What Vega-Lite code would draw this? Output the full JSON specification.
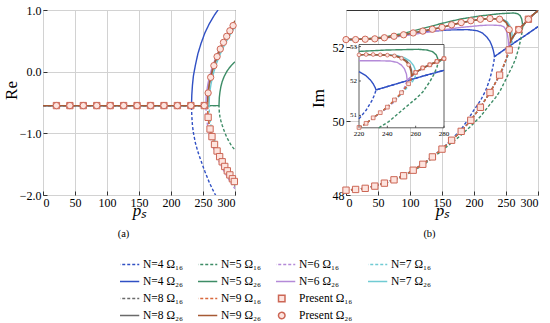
{
"$schema": "https://vega.github.io/schema/vega-lite/v6.json",
"background": "white",
"padding": {"left": 1, "top": 3, "right": 2, "bottom": 2},
"bounds": "flush",
"spacing": 111,
"datasets": {
"la": [
{"s":"N=4 Ω₁₆","p":0,"v":-0.55},{"s":"N=4 Ω₁₆","p":232,"v":-0.55},{"s":"N=4 Ω₁₆","p":232.5,"v":-0.72},{"s":"N=4 Ω₁₆","p":233.5,"v":-0.87},{"s":"N=4 Ω₁₆","p":235,"v":-0.99},{"s":"N=4 Ω₁₆","p":238,"v":-1.15},{"s":"N=4 Ω₁₆","p":242,"v":-1.3},{"s":"N=4 Ω₁₆","p":247,"v":-1.45},{"s":"N=4 Ω₁₆","p":253,"v":-1.62},{"s":"N=4 Ω₁₆","p":260,"v":-1.8},{"s":"N=4 Ω₁₆","p":266,"v":-1.93},{"s":"N=4 Ω₁₆","p":272,"v":-2.05},
{"s":"N=4 Ω₂₆","p":0,"v":-0.55},{"s":"N=4 Ω₂₆","p":232,"v":-0.55},{"s":"N=4 Ω₂₆","p":232.5,"v":-0.38},{"s":"N=4 Ω₂₆","p":233.5,"v":-0.22},{"s":"N=4 Ω₂₆","p":235,"v":-0.07},{"s":"N=4 Ω₂₆","p":238,"v":0.1},{"s":"N=4 Ω₂₆","p":242,"v":0.29},{"s":"N=4 Ω₂₆","p":247,"v":0.46},{"s":"N=4 Ω₂₆","p":253,"v":0.63},{"s":"N=4 Ω₂₆","p":260,"v":0.78},{"s":"N=4 Ω₂₆","p":268,"v":0.92},{"s":"N=4 Ω₂₆","p":276,"v":1.04},
{"s":"N=5 Ω₁₆","p":0,"v":-0.55},{"s":"N=5 Ω₁₆","p":275,"v":-0.55},{"s":"N=5 Ω₁₆","p":275.5,"v":-0.66},{"s":"N=5 Ω₁₆","p":276.5,"v":-0.73},{"s":"N=5 Ω₁₆","p":278,"v":-0.8},{"s":"N=5 Ω₁₆","p":280,"v":-0.87},{"s":"N=5 Ω₁₆","p":283,"v":-0.96},{"s":"N=5 Ω₁₆","p":287,"v":-1.06},{"s":"N=5 Ω₁₆","p":291,"v":-1.14},{"s":"N=5 Ω₁₆","p":295,"v":-1.21},{"s":"N=5 Ω₁₆","p":300,"v":-1.27},
{"s":"N=5 Ω₂₆","p":0,"v":-0.55},{"s":"N=5 Ω₂₆","p":275,"v":-0.55},{"s":"N=5 Ω₂₆","p":275.5,"v":-0.42},{"s":"N=5 Ω₂₆","p":276.5,"v":-0.33},{"s":"N=5 Ω₂₆","p":278,"v":-0.24},{"s":"N=5 Ω₂₆","p":280,"v":-0.16},{"s":"N=5 Ω₂₆","p":283,"v":-0.08},{"s":"N=5 Ω₂₆","p":287,"v":0.0},{"s":"N=5 Ω₂₆","p":291,"v":0.06},{"s":"N=5 Ω₂₆","p":295,"v":0.11},{"s":"N=5 Ω₂₆","p":300,"v":0.16},
{"s":"N=6 Ω₁₆","p":0,"v":-0.55},{"s":"N=6 Ω₁₆","p":254.5,"v":-0.55},{"s":"N=6 Ω₁₆","p":255,"v":-0.691},{"s":"N=6 Ω₁₆","p":256,"v":-0.795},{"s":"N=6 Ω₁₆","p":257.5,"v":-0.896},{"s":"N=6 Ω₁₆","p":259.5,"v":-0.997},{"s":"N=6 Ω₁₆","p":262.5,"v":-1.116},{"s":"N=6 Ω₁₆","p":266.5,"v":-1.243},{"s":"N=6 Ω₁₆","p":271.5,"v":-1.375},{"s":"N=6 Ω₁₆","p":277.5,"v":-1.509},{"s":"N=6 Ω₁₆","p":284.5,"v":-1.645},{"s":"N=6 Ω₁₆","p":292,"v":-1.775},{"s":"N=6 Ω₁₆","p":300,"v":-1.899},
{"s":"N=6 Ω₂₆","p":0,"v":-0.55},{"s":"N=6 Ω₂₆","p":254.5,"v":-0.55},{"s":"N=6 Ω₂₆","p":255,"v":-0.411},{"s":"N=6 Ω₂₆","p":256,"v":-0.309},{"s":"N=6 Ω₂₆","p":257.5,"v":-0.209},{"s":"N=6 Ω₂₆","p":259.5,"v":-0.11},{"s":"N=6 Ω₂₆","p":262.5,"v":0.007},{"s":"N=6 Ω₂₆","p":266.5,"v":0.132},{"s":"N=6 Ω₂₆","p":271.5,"v":0.262},{"s":"N=6 Ω₂₆","p":277.5,"v":0.395},{"s":"N=6 Ω₂₆","p":284.5,"v":0.529},{"s":"N=6 Ω₂₆","p":292,"v":0.656},{"s":"N=6 Ω₂₆","p":300,"v":0.779},
{"s":"N=7 Ω₁₆","p":0,"v":-0.55},{"s":"N=7 Ω₁₆","p":259.5,"v":-0.55},{"s":"N=7 Ω₁₆","p":260,"v":-0.684},{"s":"N=7 Ω₁₆","p":261,"v":-0.783},{"s":"N=7 Ω₁₆","p":262.5,"v":-0.879},{"s":"N=7 Ω₁₆","p":264.5,"v":-0.975},{"s":"N=7 Ω₁₆","p":267.5,"v":-1.087},{"s":"N=7 Ω₁₆","p":271.5,"v":-1.208},{"s":"N=7 Ω₁₆","p":276.5,"v":-1.333},{"s":"N=7 Ω₁₆","p":282.5,"v":-1.461},{"s":"N=7 Ω₁₆","p":289.5,"v":-1.591},{"s":"N=7 Ω₁₆","p":295,"v":-1.682},{"s":"N=7 Ω₁₆","p":300,"v":-1.759},
{"s":"N=7 Ω₂₆","p":0,"v":-0.55},{"s":"N=7 Ω₂₆","p":259.5,"v":-0.55},{"s":"N=7 Ω₂₆","p":260,"v":-0.409},{"s":"N=7 Ω₂₆","p":261,"v":-0.305},{"s":"N=7 Ω₂₆","p":262.5,"v":-0.204},{"s":"N=7 Ω₂₆","p":264.5,"v":-0.103},{"s":"N=7 Ω₂₆","p":267.5,"v":0.016},{"s":"N=7 Ω₂₆","p":271.5,"v":0.143},{"s":"N=7 Ω₂₆","p":276.5,"v":0.275},{"s":"N=7 Ω₂₆","p":282.5,"v":0.409},{"s":"N=7 Ω₂₆","p":289.5,"v":0.545},{"s":"N=7 Ω₂₆","p":295,"v":0.642},{"s":"N=7 Ω₂₆","p":300,"v":0.723},
{"s":"N=8 Ω₁₆","p":0,"v":-0.55},{"s":"N=8 Ω₁₆","p":257,"v":-0.55},{"s":"N=8 Ω₁₆","p":257.5,"v":-0.691},{"s":"N=8 Ω₁₆","p":258.5,"v":-0.795},{"s":"N=8 Ω₁₆","p":260,"v":-0.896},{"s":"N=8 Ω₁₆","p":262,"v":-0.997},{"s":"N=8 Ω₁₆","p":265,"v":-1.116},{"s":"N=8 Ω₁₆","p":269,"v":-1.243},{"s":"N=8 Ω₁₆","p":274,"v":-1.375},{"s":"N=8 Ω₁₆","p":280,"v":-1.509},{"s":"N=8 Ω₁₆","p":287,"v":-1.645},{"s":"N=8 Ω₁₆","p":293,"v":-1.75},{"s":"N=8 Ω₁₆","p":300,"v":-1.861},
{"s":"N=8 Ω₂₆","p":0,"v":-0.55},{"s":"N=8 Ω₂₆","p":257,"v":-0.55},{"s":"N=8 Ω₂₆","p":257.5,"v":-0.409},{"s":"N=8 Ω₂₆","p":258.5,"v":-0.305},{"s":"N=8 Ω₂₆","p":260,"v":-0.204},{"s":"N=8 Ω₂₆","p":262,"v":-0.103},{"s":"N=8 Ω₂₆","p":265,"v":0.016},{"s":"N=8 Ω₂₆","p":269,"v":0.143},{"s":"N=8 Ω₂₆","p":274,"v":0.275},{"s":"N=8 Ω₂₆","p":280,"v":0.409},{"s":"N=8 Ω₂₆","p":287,"v":0.545},{"s":"N=8 Ω₂₆","p":293,"v":0.65},{"s":"N=8 Ω₂₆","p":300,"v":0.761},
{"s":"N=9 Ω₁₆","p":0,"v":-0.55},{"s":"N=9 Ω₁₆","p":257,"v":-0.55},{"s":"N=9 Ω₁₆","p":257.5,"v":-0.681},{"s":"N=9 Ω₁₆","p":258.5,"v":-0.777},{"s":"N=9 Ω₁₆","p":260,"v":-0.87},{"s":"N=9 Ω₁₆","p":262,"v":-0.964},{"s":"N=9 Ω₁₆","p":265,"v":-1.073},{"s":"N=9 Ω₁₆","p":269,"v":-1.191},{"s":"N=9 Ω₁₆","p":274,"v":-1.313},{"s":"N=9 Ω₁₆","p":280,"v":-1.437},{"s":"N=9 Ω₁₆","p":287,"v":-1.563},{"s":"N=9 Ω₁₆","p":293,"v":-1.66},{"s":"N=9 Ω₁₆","p":300,"v":-1.763},
{"s":"N=9 Ω₂₆","p":0,"v":-0.55},{"s":"N=9 Ω₂₆","p":257,"v":-0.55},{"s":"N=9 Ω₂₆","p":257.5,"v":-0.402},{"s":"N=9 Ω₂₆","p":258.5,"v":-0.293},{"s":"N=9 Ω₂₆","p":260,"v":-0.186},{"s":"N=9 Ω₂₆","p":262,"v":-0.08},{"s":"N=9 Ω₂₆","p":265,"v":0.044},{"s":"N=9 Ω₂₆","p":269,"v":0.177},{"s":"N=9 Ω₂₆","p":274,"v":0.316},{"s":"N=9 Ω₂₆","p":280,"v":0.457},{"s":"N=9 Ω₂₆","p":287,"v":0.6},{"s":"N=9 Ω₂₆","p":293,"v":0.71},{"s":"N=9 Ω₂₆","p":300,"v":0.827}
],
"ma": [
{"s":"Present Ω₁₆","p":21,"v":-0.55},{"s":"Present Ω₁₆","p":42,"v":-0.55},{"s":"Present Ω₁₆","p":63,"v":-0.55},{"s":"Present Ω₁₆","p":84,"v":-0.55},{"s":"Present Ω₁₆","p":105,"v":-0.55},{"s":"Present Ω₁₆","p":126,"v":-0.55},{"s":"Present Ω₁₆","p":147,"v":-0.55},{"s":"Present Ω₁₆","p":168,"v":-0.55},{"s":"Present Ω₁₆","p":189,"v":-0.55},{"s":"Present Ω₁₆","p":210,"v":-0.55},{"s":"Present Ω₁₆","p":231,"v":-0.55},{"s":"Present Ω₁₆","p":252,"v":-0.55},
{"s":"Present Ω₁₆","p":258,"v":-0.74},{"s":"Present Ω₁₆","p":261,"v":-0.93},{"s":"Present Ω₁₆","p":264,"v":-1.053},{"s":"Present Ω₁₆","p":268,"v":-1.18},{"s":"Present Ω₁₆","p":272,"v":-1.286},{"s":"Present Ω₁₆","p":276,"v":-1.378},{"s":"Present Ω₁₆","p":280,"v":-1.461},{"s":"Present Ω₁₆","p":284,"v":-1.537},{"s":"Present Ω₁₆","p":288,"v":-1.608},{"s":"Present Ω₁₆","p":292,"v":-1.674},{"s":"Present Ω₁₆","p":296,"v":-1.737},{"s":"Present Ω₁₆","p":299,"v":-1.781},
{"s":"Present Ω₂₆","p":21,"v":-0.55},{"s":"Present Ω₂₆","p":42,"v":-0.55},{"s":"Present Ω₂₆","p":63,"v":-0.55},{"s":"Present Ω₂₆","p":84,"v":-0.55},{"s":"Present Ω₂₆","p":105,"v":-0.55},{"s":"Present Ω₂₆","p":126,"v":-0.55},{"s":"Present Ω₂₆","p":147,"v":-0.55},{"s":"Present Ω₂₆","p":168,"v":-0.55},{"s":"Present Ω₂₆","p":189,"v":-0.55},{"s":"Present Ω₂₆","p":210,"v":-0.55},{"s":"Present Ω₂₆","p":231,"v":-0.55},{"s":"Present Ω₂₆","p":252,"v":-0.55},
{"s":"Present Ω₂₆","p":258,"v":-0.345},{"s":"Present Ω₂₆","p":262,"v":-0.092},{"s":"Present Ω₂₆","p":267,"v":0.098},{"s":"Present Ω₂₆","p":272,"v":0.244},{"s":"Present Ω₂₆","p":277,"v":0.367},{"s":"Present Ω₂₆","p":282,"v":0.475},{"s":"Present Ω₂₆","p":287,"v":0.573},{"s":"Present Ω₂₆","p":292,"v":0.663},{"s":"Present Ω₂₆","p":297,"v":0.747}
],
"lb": [
{"s":"N=4 Ω₁₆","p":0,"v":48.13},{"s":"N=4 Ω₁₆","p":30,"v":48.18},{"s":"N=4 Ω₁₆","p":60,"v":48.32},{"s":"N=4 Ω₁₆","p":90,"v":48.52},{"s":"N=4 Ω₁₆","p":120,"v":48.83},{"s":"N=4 Ω₁₆","p":150,"v":49.24},{"s":"N=4 Ω₁₆","p":165,"v":49.5},{"s":"N=4 Ω₁₆","p":180,"v":49.78},{"s":"N=4 Ω₁₆","p":190,"v":50.02},{"s":"N=4 Ω₁₆","p":200,"v":50.3},{"s":"N=4 Ω₁₆","p":210,"v":50.55},{"s":"N=4 Ω₁₆","p":217,"v":50.78},{"s":"N=4 Ω₁₆","p":220,"v":50.9},{"s":"N=4 Ω₁₆","p":225,"v":51.15},{"s":"N=4 Ω₁₆","p":229,"v":51.42},{"s":"N=4 Ω₁₆","p":231,"v":51.6},{"s":"N=4 Ω₁₆","p":232,"v":51.74},{"s":"N=4 Ω₁₆","p":250,"v":51.96},{"s":"N=4 Ω₁₆","p":265,"v":52.14},{"s":"N=4 Ω₁₆","p":280,"v":52.31},{"s":"N=4 Ω₁₆","p":300,"v":52.55},
{"s":"N=4 Ω₂₆","p":0,"v":52.2},{"s":"N=4 Ω₂₆","p":30,"v":52.21},{"s":"N=4 Ω₂₆","p":60,"v":52.25},{"s":"N=4 Ω₂₆","p":100,"v":52.36},{"s":"N=4 Ω₂₆","p":130,"v":52.42},{"s":"N=4 Ω₂₆","p":160,"v":52.46},{"s":"N=4 Ω₂₆","p":190,"v":52.47},{"s":"N=4 Ω₂₆","p":205,"v":52.44},{"s":"N=4 Ω₂₆","p":213,"v":52.38},{"s":"N=4 Ω₂₆","p":220,"v":52.27},{"s":"N=4 Ω₂₆","p":225,"v":52.15},{"s":"N=4 Ω₂₆","p":228,"v":52.03},{"s":"N=4 Ω₂₆","p":230,"v":51.92},{"s":"N=4 Ω₂₆","p":231.5,"v":51.8},{"s":"N=4 Ω₂₆","p":232,"v":51.74},{"s":"N=4 Ω₂₆","p":250,"v":51.96},{"s":"N=4 Ω₂₆","p":265,"v":52.14},{"s":"N=4 Ω₂₆","p":280,"v":52.31},{"s":"N=4 Ω₂₆","p":300,"v":52.55},
{"s":"N=5 Ω₁₆","p":0,"v":48.13},{"s":"N=5 Ω₁₆","p":30,"v":48.18},{"s":"N=5 Ω₁₆","p":60,"v":48.31},{"s":"N=5 Ω₁₆","p":90,"v":48.5},{"s":"N=5 Ω₁₆","p":120,"v":48.8},{"s":"N=5 Ω₁₆","p":150,"v":49.2},{"s":"N=5 Ω₁₆","p":180,"v":49.62},{"s":"N=5 Ω₁₆","p":195,"v":49.86},{"s":"N=5 Ω₁₆","p":210,"v":50.12},{"s":"N=5 Ω₁₆","p":225,"v":50.45},{"s":"N=5 Ω₁₆","p":234,"v":50.64},{"s":"N=5 Ω₁₆","p":241,"v":50.82},{"s":"N=5 Ω₁₆","p":253,"v":51.24},{"s":"N=5 Ω₁₆","p":260,"v":51.48},{"s":"N=5 Ω₁₆","p":265,"v":51.68},{"s":"N=5 Ω₁₆","p":270,"v":51.98},{"s":"N=5 Ω₁₆","p":273,"v":52.2},{"s":"N=5 Ω₁₆","p":275,"v":52.4},{"s":"N=5 Ω₁₆","p":276,"v":52.55},{"s":"N=5 Ω₁₆","p":280,"v":52.65},{"s":"N=5 Ω₁₆","p":285,"v":52.75},{"s":"N=5 Ω₁₆","p":292,"v":52.87},{"s":"N=5 Ω₁₆","p":300,"v":52.98},
{"s":"N=5 Ω₂₆","p":0,"v":52.2},{"s":"N=5 Ω₂₆","p":30,"v":52.22},{"s":"N=5 Ω₂₆","p":60,"v":52.27},{"s":"N=5 Ω₂₆","p":90,"v":52.37},{"s":"N=5 Ω₂₆","p":120,"v":52.5},{"s":"N=5 Ω₂₆","p":150,"v":52.64},{"s":"N=5 Ω₂₆","p":180,"v":52.76},{"s":"N=5 Ω₂₆","p":210,"v":52.84},{"s":"N=5 Ω₂₆","p":220,"v":52.86},{"s":"N=5 Ω₂₆","p":240,"v":52.9},{"s":"N=5 Ω₂₆","p":262,"v":52.92},{"s":"N=5 Ω₂₆","p":268,"v":52.9},{"s":"N=5 Ω₂₆","p":272,"v":52.85},{"s":"N=5 Ω₂₆","p":274.5,"v":52.76},{"s":"N=5 Ω₂₆","p":275.5,"v":52.66},{"s":"N=5 Ω₂₆","p":276,"v":52.55},{"s":"N=5 Ω₂₆","p":280,"v":52.65},{"s":"N=5 Ω₂₆","p":285,"v":52.75},{"s":"N=5 Ω₂₆","p":292,"v":52.87},{"s":"N=5 Ω₂₆","p":300,"v":52.98},
{"s":"N=6 Ω₁₆","p":0,"v":48.13},{"s":"N=6 Ω₁₆","p":30,"v":48.18},{"s":"N=6 Ω₁₆","p":60,"v":48.32},{"s":"N=6 Ω₁₆","p":90,"v":48.52},{"s":"N=6 Ω₁₆","p":120,"v":48.83},{"s":"N=6 Ω₁₆","p":150,"v":49.24},{"s":"N=6 Ω₁₆","p":180,"v":49.72},{"s":"N=6 Ω₁₆","p":195,"v":50.02},{"s":"N=6 Ω₁₆","p":210,"v":50.37},{"s":"N=6 Ω₁₆","p":220,"v":50.64},{"s":"N=6 Ω₁₆","p":225,"v":50.77},{"s":"N=6 Ω₁₆","p":240,"v":51.22},{"s":"N=6 Ω₁₆","p":245,"v":51.4},{"s":"N=6 Ω₁₆","p":249,"v":51.6},{"s":"N=6 Ω₁₆","p":252,"v":51.8},{"s":"N=6 Ω₁₆","p":254,"v":52.02},{"s":"N=6 Ω₁₆","p":258,"v":52.17},{"s":"N=6 Ω₁₆","p":262,"v":52.29},{"s":"N=6 Ω₁₆","p":266,"v":52.39},{"s":"N=6 Ω₁₆","p":270,"v":52.47},{"s":"N=6 Ω₁₆","p":278,"v":52.62},{"s":"N=6 Ω₁₆","p":280,"v":52.65},{"s":"N=6 Ω₁₆","p":285,"v":52.75},{"s":"N=6 Ω₁₆","p":292,"v":52.87},{"s":"N=6 Ω₁₆","p":300,"v":52.98},
{"s":"N=6 Ω₂₆","p":0,"v":52.2},{"s":"N=6 Ω₂₆","p":30,"v":52.21},{"s":"N=6 Ω₂₆","p":60,"v":52.24},{"s":"N=6 Ω₂₆","p":90,"v":52.3},{"s":"N=6 Ω₂₆","p":120,"v":52.38},{"s":"N=6 Ω₂₆","p":150,"v":52.46},{"s":"N=6 Ω₂₆","p":180,"v":52.53},{"s":"N=6 Ω₂₆","p":210,"v":52.58},{"s":"N=6 Ω₂₆","p":220,"v":52.59},{"s":"N=6 Ω₂₆","p":230,"v":52.59},{"s":"N=6 Ω₂₆","p":242,"v":52.58},{"s":"N=6 Ω₂₆","p":247,"v":52.54},{"s":"N=6 Ω₂₆","p":250,"v":52.46},{"s":"N=6 Ω₂₆","p":252,"v":52.36},{"s":"N=6 Ω₂₆","p":253.5,"v":52.2},{"s":"N=6 Ω₂₆","p":254,"v":52.02},{"s":"N=6 Ω₂₆","p":258,"v":52.17},{"s":"N=6 Ω₂₆","p":262,"v":52.29},{"s":"N=6 Ω₂₆","p":266,"v":52.39},{"s":"N=6 Ω₂₆","p":270,"v":52.47},{"s":"N=6 Ω₂₆","p":278,"v":52.62},{"s":"N=6 Ω₂₆","p":280,"v":52.65},{"s":"N=6 Ω₂₆","p":285,"v":52.75},{"s":"N=6 Ω₂₆","p":292,"v":52.87},{"s":"N=6 Ω₂₆","p":300,"v":52.98},
{"s":"N=7 Ω₁₆","p":0,"v":48.13},{"s":"N=7 Ω₁₆","p":30,"v":48.18},{"s":"N=7 Ω₁₆","p":60,"v":48.32},{"s":"N=7 Ω₁₆","p":90,"v":48.52},{"s":"N=7 Ω₁₆","p":120,"v":48.83},{"s":"N=7 Ω₁₆","p":150,"v":49.24},{"s":"N=7 Ω₁₆","p":180,"v":49.72},{"s":"N=7 Ω₁₆","p":195,"v":50.02},{"s":"N=7 Ω₁₆","p":210,"v":50.37},{"s":"N=7 Ω₁₆","p":220,"v":50.64},{"s":"N=7 Ω₁₆","p":225,"v":50.77},{"s":"N=7 Ω₁₆","p":240,"v":51.24},{"s":"N=7 Ω₁₆","p":245,"v":51.43},{"s":"N=7 Ω₁₆","p":250,"v":51.62},{"s":"N=7 Ω₁₆","p":255,"v":51.86},{"s":"N=7 Ω₁₆","p":258,"v":52.0},{"s":"N=7 Ω₁₆","p":259.5,"v":52.1},{"s":"N=7 Ω₁₆","p":260,"v":52.22},{"s":"N=7 Ω₁₆","p":262,"v":52.3},{"s":"N=7 Ω₁₆","p":265,"v":52.38},{"s":"N=7 Ω₁₆","p":270,"v":52.47},{"s":"N=7 Ω₁₆","p":278,"v":52.62},{"s":"N=7 Ω₁₆","p":280,"v":52.65},{"s":"N=7 Ω₁₆","p":285,"v":52.75},{"s":"N=7 Ω₁₆","p":292,"v":52.87},{"s":"N=7 Ω₁₆","p":300,"v":52.98},
{"s":"N=7 Ω₂₆","p":0,"v":52.2},{"s":"N=7 Ω₂₆","p":30,"v":52.21},{"s":"N=7 Ω₂₆","p":60,"v":52.25},{"s":"N=7 Ω₂₆","p":90,"v":52.33},{"s":"N=7 Ω₂₆","p":120,"v":52.43},{"s":"N=7 Ω₂₆","p":150,"v":52.53},{"s":"N=7 Ω₂₆","p":180,"v":52.66},{"s":"N=7 Ω₂₆","p":210,"v":52.75},{"s":"N=7 Ω₂₆","p":220,"v":52.76},{"s":"N=7 Ω₂₆","p":225,"v":52.77},{"s":"N=7 Ω₂₆","p":240,"v":52.75},{"s":"N=7 Ω₂₆","p":245,"v":52.75},{"s":"N=7 Ω₂₆","p":252,"v":52.68},{"s":"N=7 Ω₂₆","p":256,"v":52.58},{"s":"N=7 Ω₂₆","p":258.5,"v":52.45},{"s":"N=7 Ω₂₆","p":259.5,"v":52.35},{"s":"N=7 Ω₂₆","p":260,"v":52.22},{"s":"N=7 Ω₂₆","p":262,"v":52.3},{"s":"N=7 Ω₂₆","p":265,"v":52.38},{"s":"N=7 Ω₂₆","p":270,"v":52.47},{"s":"N=7 Ω₂₆","p":278,"v":52.62},{"s":"N=7 Ω₂₆","p":280,"v":52.65},{"s":"N=7 Ω₂₆","p":285,"v":52.75},{"s":"N=7 Ω₂₆","p":292,"v":52.87},{"s":"N=7 Ω₂₆","p":300,"v":52.98},
{"s":"N=8 Ω₁₆","p":0,"v":48.13},{"s":"N=8 Ω₁₆","p":30,"v":48.18},{"s":"N=8 Ω₁₆","p":60,"v":48.32},{"s":"N=8 Ω₁₆","p":90,"v":48.52},{"s":"N=8 Ω₁₆","p":120,"v":48.83},{"s":"N=8 Ω₁₆","p":150,"v":49.24},{"s":"N=8 Ω₁₆","p":180,"v":49.72},{"s":"N=8 Ω₁₆","p":195,"v":50.02},{"s":"N=8 Ω₁₆","p":210,"v":50.37},{"s":"N=8 Ω₁₆","p":220,"v":50.64},{"s":"N=8 Ω₁₆","p":225,"v":50.77},{"s":"N=8 Ω₁₆","p":240,"v":51.24},{"s":"N=8 Ω₁₆","p":245,"v":51.44},{"s":"N=8 Ω₁₆","p":250,"v":51.65},{"s":"N=8 Ω₁₆","p":254,"v":51.86},{"s":"N=8 Ω₁₆","p":256,"v":51.97},{"s":"N=8 Ω₁₆","p":257,"v":52.04},{"s":"N=8 Ω₁₆","p":257.5,"v":52.17},{"s":"N=8 Ω₁₆","p":260,"v":52.25},{"s":"N=8 Ω₁₆","p":265,"v":52.38},{"s":"N=8 Ω₁₆","p":270,"v":52.47},{"s":"N=8 Ω₁₆","p":278,"v":52.62},{"s":"N=8 Ω₁₆","p":280,"v":52.65},{"s":"N=8 Ω₁₆","p":285,"v":52.75},{"s":"N=8 Ω₁₆","p":292,"v":52.87},{"s":"N=8 Ω₁₆","p":300,"v":52.98},
{"s":"N=8 Ω₂₆","p":0,"v":52.2},{"s":"N=8 Ω₂₆","p":30,"v":52.21},{"s":"N=8 Ω₂₆","p":60,"v":52.25},{"s":"N=8 Ω₂₆","p":90,"v":52.33},{"s":"N=8 Ω₂₆","p":120,"v":52.43},{"s":"N=8 Ω₂₆","p":150,"v":52.53},{"s":"N=8 Ω₂₆","p":180,"v":52.66},{"s":"N=8 Ω₂₆","p":210,"v":52.75},{"s":"N=8 Ω₂₆","p":220,"v":52.76},{"s":"N=8 Ω₂₆","p":225,"v":52.77},{"s":"N=8 Ω₂₆","p":240,"v":52.75},{"s":"N=8 Ω₂₆","p":245,"v":52.74},{"s":"N=8 Ω₂₆","p":250,"v":52.68},{"s":"N=8 Ω₂₆","p":254,"v":52.57},{"s":"N=8 Ω₂₆","p":256,"v":52.45},{"s":"N=8 Ω₂₆","p":257,"v":52.33},{"s":"N=8 Ω₂₆","p":257.5,"v":52.17},{"s":"N=8 Ω₂₆","p":260,"v":52.25},{"s":"N=8 Ω₂₆","p":265,"v":52.38},{"s":"N=8 Ω₂₆","p":270,"v":52.47},{"s":"N=8 Ω₂₆","p":278,"v":52.62},{"s":"N=8 Ω₂₆","p":280,"v":52.65},{"s":"N=8 Ω₂₆","p":285,"v":52.75},{"s":"N=8 Ω₂₆","p":292,"v":52.87},{"s":"N=8 Ω₂₆","p":300,"v":52.98},
{"s":"N=9 Ω₁₆","p":0,"v":48.13},{"s":"N=9 Ω₁₆","p":30,"v":48.18},{"s":"N=9 Ω₁₆","p":60,"v":48.32},{"s":"N=9 Ω₁₆","p":90,"v":48.52},{"s":"N=9 Ω₁₆","p":120,"v":48.83},{"s":"N=9 Ω₁₆","p":150,"v":49.24},{"s":"N=9 Ω₁₆","p":180,"v":49.72},{"s":"N=9 Ω₁₆","p":195,"v":50.02},{"s":"N=9 Ω₁₆","p":210,"v":50.37},{"s":"N=9 Ω₁₆","p":220,"v":50.64},{"s":"N=9 Ω₁₆","p":225,"v":50.77},{"s":"N=9 Ω₁₆","p":240,"v":51.24},{"s":"N=9 Ω₁₆","p":245,"v":51.45},{"s":"N=9 Ω₁₆","p":250,"v":51.66},{"s":"N=9 Ω₁₆","p":253,"v":51.82},{"s":"N=9 Ω₁₆","p":255,"v":51.92},{"s":"N=9 Ω₁₆","p":256,"v":51.99},{"s":"N=9 Ω₁₆","p":256.7,"v":52.06},{"s":"N=9 Ω₁₆","p":257,"v":52.15},{"s":"N=9 Ω₁₆","p":260,"v":52.25},{"s":"N=9 Ω₁₆","p":265,"v":52.38},{"s":"N=9 Ω₁₆","p":270,"v":52.47},{"s":"N=9 Ω₁₆","p":278,"v":52.62},{"s":"N=9 Ω₁₆","p":280,"v":52.65},{"s":"N=9 Ω₁₆","p":285,"v":52.75},{"s":"N=9 Ω₁₆","p":292,"v":52.87},{"s":"N=9 Ω₁₆","p":300,"v":52.98},
{"s":"N=9 Ω₂₆","p":0,"v":52.2},{"s":"N=9 Ω₂₆","p":30,"v":52.21},{"s":"N=9 Ω₂₆","p":60,"v":52.25},{"s":"N=9 Ω₂₆","p":90,"v":52.33},{"s":"N=9 Ω₂₆","p":120,"v":52.43},{"s":"N=9 Ω₂₆","p":150,"v":52.53},{"s":"N=9 Ω₂₆","p":180,"v":52.66},{"s":"N=9 Ω₂₆","p":210,"v":52.75},{"s":"N=9 Ω₂₆","p":220,"v":52.76},{"s":"N=9 Ω₂₆","p":225,"v":52.77},{"s":"N=9 Ω₂₆","p":240,"v":52.75},{"s":"N=9 Ω₂₆","p":245,"v":52.73},{"s":"N=9 Ω₂₆","p":250,"v":52.66},{"s":"N=9 Ω₂₆","p":253,"v":52.57},{"s":"N=9 Ω₂₆","p":255,"v":52.47},{"s":"N=9 Ω₂₆","p":256,"v":52.38},{"s":"N=9 Ω₂₆","p":256.7,"v":52.27},{"s":"N=9 Ω₂₆","p":257,"v":52.15},{"s":"N=9 Ω₂₆","p":260,"v":52.25},{"s":"N=9 Ω₂₆","p":265,"v":52.38},{"s":"N=9 Ω₂₆","p":270,"v":52.47},{"s":"N=9 Ω₂₆","p":278,"v":52.62},{"s":"N=9 Ω₂₆","p":280,"v":52.65},{"s":"N=9 Ω₂₆","p":285,"v":52.75},{"s":"N=9 Ω₂₆","p":292,"v":52.87},{"s":"N=9 Ω₂₆","p":300,"v":52.98}
],
"mb": [
{"s":"Present Ω₁₆","p":0,"v":48.13},{"s":"Present Ω₁₆","p":15,"v":48.15},{"s":"Present Ω₁₆","p":30,"v":48.18},{"s":"Present Ω₁₆","p":45,"v":48.24},{"s":"Present Ω₁₆","p":60,"v":48.32},{"s":"Present Ω₁₆","p":75,"v":48.41},{"s":"Present Ω₁₆","p":90,"v":48.52},{"s":"Present Ω₁₆","p":105,"v":48.67},{"s":"Present Ω₁₆","p":120,"v":48.83},{"s":"Present Ω₁₆","p":135,"v":49.03},{"s":"Present Ω₁₆","p":150,"v":49.24},{"s":"Present Ω₁₆","p":165,"v":49.48},{"s":"Present Ω₁₆","p":180,"v":49.72},{"s":"Present Ω₁₆","p":195,"v":50.02},{"s":"Present Ω₁₆","p":210,"v":50.37},{"s":"Present Ω₁₆","p":225,"v":50.77},{"s":"Present Ω₁₆","p":240,"v":51.24},{"s":"Present Ω₁₆","p":255,"v":51.92},{"s":"Present Ω₁₆","p":270,"v":52.47},{"s":"Present Ω₁₆","p":285,"v":52.75},
{"s":"Present Ω₂₆","p":0,"v":52.2},{"s":"Present Ω₂₆","p":15,"v":52.2},{"s":"Present Ω₂₆","p":30,"v":52.21},{"s":"Present Ω₂₆","p":45,"v":52.22},{"s":"Present Ω₂₆","p":60,"v":52.25},{"s":"Present Ω₂₆","p":75,"v":52.29},{"s":"Present Ω₂₆","p":90,"v":52.33},{"s":"Present Ω₂₆","p":105,"v":52.38},{"s":"Present Ω₂₆","p":120,"v":52.43},{"s":"Present Ω₂₆","p":135,"v":52.48},{"s":"Present Ω₂₆","p":150,"v":52.53},{"s":"Present Ω₂₆","p":165,"v":52.6},{"s":"Present Ω₂₆","p":180,"v":52.66},{"s":"Present Ω₂₆","p":195,"v":52.71},{"s":"Present Ω₂₆","p":210,"v":52.75},{"s":"Present Ω₂₆","p":225,"v":52.77},{"s":"Present Ω₂₆","p":240,"v":52.75},{"s":"Present Ω₂₆","p":255,"v":52.47},{"s":"Present Ω₂₆","p":270,"v":52.47},{"s":"Present Ω₂₆","p":285,"v":52.75}
],
"mi": [
{"s":"Present Ω₁₆","p":220,"v":50.65},{"s":"Present Ω₁₆","p":225,"v":50.77},{"s":"Present Ω₁₆","p":230,"v":50.93},{"s":"Present Ω₁₆","p":235,"v":51.08},{"s":"Present Ω₁₆","p":240,"v":51.24},{"s":"Present Ω₁₆","p":245,"v":51.45},{"s":"Present Ω₁₆","p":250,"v":51.66},{"s":"Present Ω₁₆","p":255,"v":51.92},{"s":"Present Ω₁₆","p":260,"v":52.25},{"s":"Present Ω₁₆","p":265,"v":52.38},{"s":"Present Ω₁₆","p":270,"v":52.47},{"s":"Present Ω₁₆","p":275,"v":52.57},{"s":"Present Ω₁₆","p":280,"v":52.65},
{"s":"Present Ω₂₆","p":220,"v":52.76},{"s":"Present Ω₂₆","p":225,"v":52.77},{"s":"Present Ω₂₆","p":230,"v":52.77},{"s":"Present Ω₂₆","p":235,"v":52.76},{"s":"Present Ω₂₆","p":240,"v":52.75},{"s":"Present Ω₂₆","p":245,"v":52.73},{"s":"Present Ω₂₆","p":250,"v":52.66},{"s":"Present Ω₂₆","p":255,"v":52.47},{"s":"Present Ω₂₆","p":260,"v":52.25},{"s":"Present Ω₂₆","p":265,"v":52.38},{"s":"Present Ω₂₆","p":270,"v":52.47},{"s":"Present Ω₂₆","p":275,"v":52.57},{"s":"Present Ω₂₆","p":280,"v":52.65}
],
"ix": [{"p":220},{"p":240},{"p":260},{"p":280}],
"iy": [{"v":51},{"v":52},{"v":53}]
},
"hconcat": [
{
"width": 192, "height": 185,
"resolve": {"axis": {"x": "independent"}},
"layer": [
{"data": {"name": "la"}, "mark": {"type": "line", "strokeWidth": 1.4, "clip": true},
 "encoding": {
  "x": {"field": "p", "type": "quantitative", "scale": {"domain": [0, 300], "nice": false, "zero": false}, "axis": {"orient": "bottom", "title": "pₛ", "titleFontStyle": "italic", "values": [0,50,100,150,200,250,300], "titleBaseline": "alphabetic", "titleY": 20, "labelOverlap": false}},
  "y": {"field": "v", "type": "quantitative", "scale": {"domain": [-2, 1], "nice": false, "zero": false}, "axis": {"title": "Re", "values": [-2,-1.5,-1,-0.5,0,0.5,1], "format": ".1f", "titleAngle": 270, "titleBaseline": "bottom", "titleX": -23, "titleY": 80, "labelOverlap": false, "labelSeparation": -40}},
  "color": {"field": "s", "type": "nominal", "legend": {"title": null},
   "scale": {"domain": ["N=4 Ω₁₆","N=5 Ω₁₆","N=6 Ω₁₆","N=7 Ω₁₆","N=4 Ω₂₆","N=5 Ω₂₆","N=6 Ω₂₆","N=7 Ω₂₆","N=8 Ω₁₆","N=9 Ω₁₆","Present Ω₁₆"," ","N=8 Ω₂₆","N=9 Ω₂₆","Present Ω₂₆"],
             "range": ["#3050c4","#3d8c66","#b48ad8","#70cbd3","#3050c4","#3d8c66","#b48ad8","#70cbd3","#6a6a6a","#d9683c","#cc6655","#ffffff","#6a6a6a","#a65a34","#cc6655"]}},
  "strokeDash": {"field": "s", "type": "nominal", "legend": {"title": null},
   "scale": {"domain": ["N=4 Ω₁₆","N=5 Ω₁₆","N=6 Ω₁₆","N=7 Ω₁₆","N=4 Ω₂₆","N=5 Ω₂₆","N=6 Ω₂₆","N=7 Ω₂₆","N=8 Ω₁₆","N=9 Ω₁₆","Present Ω₁₆"," ","N=8 Ω₂₆","N=9 Ω₂₆","Present Ω₂₆"],
             "range": [[3,2],[3,2],[3,2],[3,2],[1,0],[1,0],[1,0],[1,0],[3,2],[3,2],[1,0],[1,0],[1,0],[1,0],[1,0]]}}
 }},
{"data": {"name": "ma"}, "mark": {"type": "point", "filled": true, "fill": "#fde4df", "stroke": "#cc6655", "strokeWidth": 1, "size": 40, "opacity": 1},
 "encoding": {
  "x": {"field": "p", "type": "quantitative", "axis": {"orient": "bottom", "title": "(a)", "titleFontStyle": "normal", "titleFontSize": 10.5, "labels": false, "ticks": false, "grid": false, "domain": false, "titleX": 80, "titleY": 41, "titleBaseline": "alphabetic", "titleAlign": "center"}},
  "y": {"field": "v", "type": "quantitative"},
  "shape": {"field": "s", "type": "nominal", "legend": {"title": null},
   "scale": {"domain": ["N=4 Ω₁₆","N=5 Ω₁₆","N=6 Ω₁₆","N=7 Ω₁₆","N=4 Ω₂₆","N=5 Ω₂₆","N=6 Ω₂₆","N=7 Ω₂₆","N=8 Ω₁₆","N=9 Ω₁₆","Present Ω₁₆"," ","N=8 Ω₂₆","N=9 Ω₂₆","Present Ω₂₆"],
             "range": ["M-4.17,0H4.17","M-4.17,0H4.17","M-4.17,0H4.17","M-4.17,0H4.17","M-4.17,0H4.17","M-4.17,0H4.17","M-4.17,0H4.17","M-4.17,0H4.17","M-4.17,0H4.17","M-4.17,0H4.17","square","M-4.17,0H4.17","M-4.17,0H4.17","M-4.17,0H4.17","circle"]}}
 }}
]
},
{
"width": 192, "height": 185,
"resolve": {"scale": {"x": "independent", "y": "independent"}},
"layer": [
{"resolve": {"axis": {"x": "independent"}},
 "layer": [
{"data": {"name": "lb"}, "mark": {"type": "line", "strokeWidth": 1.4, "clip": true},
 "encoding": {
  "x": {"field": "p", "type": "quantitative", "scale": {"domain": [0, 300], "nice": false, "zero": false}, "axis": {"orient": "bottom", "title": "pₛ", "titleFontStyle": "italic", "values": [0,50,100,150,200,250,300], "titleBaseline": "alphabetic", "titleY": 20, "labelOverlap": false}},
  "y": {"field": "v", "type": "quantitative", "scale": {"domain": [48, 53], "nice": false, "zero": false}, "axis": {"orient": "left", "title": "Im", "values": [48,49,50,51,52,53], "format": "d", "titleAngle": 270, "titleBaseline": "bottom", "titleX": -19, "titleY": 88, "labelOverlap": false, "labelSeparation": -40}},
  "color": {"field": "s", "type": "nominal", "legend": {"title": null},
   "scale": {"domain": ["N=4 Ω₁₆","N=5 Ω₁₆","N=6 Ω₁₆","N=7 Ω₁₆","N=4 Ω₂₆","N=5 Ω₂₆","N=6 Ω₂₆","N=7 Ω₂₆","N=8 Ω₁₆","N=9 Ω₁₆","Present Ω₁₆"," ","N=8 Ω₂₆","N=9 Ω₂₆","Present Ω₂₆"],
             "range": ["#3050c4","#3d8c66","#b48ad8","#70cbd3","#3050c4","#3d8c66","#b48ad8","#70cbd3","#6a6a6a","#d9683c","#cc6655","#ffffff","#6a6a6a","#a65a34","#cc6655"]}},
  "strokeDash": {"field": "s", "type": "nominal", "legend": {"title": null},
   "scale": {"domain": ["N=4 Ω₁₆","N=5 Ω₁₆","N=6 Ω₁₆","N=7 Ω₁₆","N=4 Ω₂₆","N=5 Ω₂₆","N=6 Ω₂₆","N=7 Ω₂₆","N=8 Ω₁₆","N=9 Ω₁₆","Present Ω₁₆"," ","N=8 Ω₂₆","N=9 Ω₂₆","Present Ω₂₆"],
             "range": [[3,2],[3,2],[3,2],[3,2],[1,0],[1,0],[1,0],[1,0],[3,2],[3,2],[1,0],[1,0],[1,0],[1,0],[1,0]]}}
 }},
{"data": {"name": "mb"}, "mark": {"type": "point", "filled": true, "fill": "#fde4df", "stroke": "#cc6655", "strokeWidth": 1, "size": 40, "opacity": 1},
 "encoding": {
  "x": {"field": "p", "type": "quantitative", "axis": {"orient": "bottom", "title": "(b)", "titleFontStyle": "normal", "titleFontSize": 10.5, "labels": false, "ticks": false, "grid": false, "domain": false, "titleX": 83, "titleY": 41, "titleBaseline": "alphabetic", "titleAlign": "center"}},
  "y": {"field": "v", "type": "quantitative"},
  "shape": {"field": "s", "type": "nominal", "legend": {"title": null},
   "scale": {"domain": ["N=4 Ω₁₆","N=5 Ω₁₆","N=6 Ω₁₆","N=7 Ω₁₆","N=4 Ω₂₆","N=5 Ω₂₆","N=6 Ω₂₆","N=7 Ω₂₆","N=8 Ω₁₆","N=9 Ω₁₆","Present Ω₁₆"," ","N=8 Ω₂₆","N=9 Ω₂₆","Present Ω₂₆"],
             "range": ["M-4.17,0H4.17","M-4.17,0H4.17","M-4.17,0H4.17","M-4.17,0H4.17","M-4.17,0H4.17","M-4.17,0H4.17","M-4.17,0H4.17","M-4.17,0H4.17","M-4.17,0H4.17","M-4.17,0H4.17","square","M-4.17,0H4.17","M-4.17,0H4.17","M-4.17,0H4.17","circle"]}}
 }}
]},
{"layer": [
{"data": {"values": [{}]}, "mark": {"type": "rect", "fill": "white", "stroke": "#333", "strokeWidth": 0.8},
 "encoding": {
  "x": {"datum": 220, "type": "quantitative", "scale": {"domain": [220, 280], "range": [13, 98], "nice": false, "zero": false}, "axis": null},
  "x2": {"datum": 280},
  "y": {"datum": 50.64, "type": "quantitative", "scale": {"domain": [50.64, 53.06], "range": [117.8, 34.5], "nice": false, "zero": false}, "axis": null},
  "y2": {"datum": 53.06}
 }},
{"data": {"name": "lb"}, "transform": [{"filter": "datum.p >= 220 && datum.p <= 280 && datum.v >= 50.64"}], "mark": {"type": "line", "strokeWidth": 1.4},
 "encoding": {
  "x": {"field": "p", "type": "quantitative", "axis": null},
  "y": {"field": "v", "type": "quantitative", "axis": null},
  "color": {"field": "s", "type": "nominal", "legend": {"title": null},
   "scale": {"domain": ["N=4 Ω₁₆","N=5 Ω₁₆","N=6 Ω₁₆","N=7 Ω₁₆","N=4 Ω₂₆","N=5 Ω₂₆","N=6 Ω₂₆","N=7 Ω₂₆","N=8 Ω₁₆","N=9 Ω₁₆","Present Ω₁₆"," ","N=8 Ω₂₆","N=9 Ω₂₆","Present Ω₂₆"],
             "range": ["#3050c4","#3d8c66","#b48ad8","#70cbd3","#3050c4","#3d8c66","#b48ad8","#70cbd3","#6a6a6a","#d9683c","#cc6655","#ffffff","#6a6a6a","#a65a34","#cc6655"]}},
  "strokeDash": {"field": "s", "type": "nominal", "legend": {"title": null},
   "scale": {"domain": ["N=4 Ω₁₆","N=5 Ω₁₆","N=6 Ω₁₆","N=7 Ω₁₆","N=4 Ω₂₆","N=5 Ω₂₆","N=6 Ω₂₆","N=7 Ω₂₆","N=8 Ω₁₆","N=9 Ω₁₆","Present Ω₁₆"," ","N=8 Ω₂₆","N=9 Ω₂₆","Present Ω₂₆"],
             "range": [[3,2],[3,2],[3,2],[3,2],[1,0],[1,0],[1,0],[1,0],[3,2],[3,2],[1,0],[1,0],[1,0],[1,0],[1,0]]}}
 }},
{"data": {"name": "mi"}, "mark": {"type": "point", "filled": true, "fill": "#fde4df", "stroke": "#cc6655", "strokeWidth": 0.8, "size": 14, "opacity": 1},
 "encoding": {
  "x": {"field": "p", "type": "quantitative", "axis": null},
  "y": {"field": "v", "type": "quantitative", "axis": null},
  "shape": {"field": "s", "type": "nominal", "legend": {"title": null},
   "scale": {"domain": ["N=4 Ω₁₆","N=5 Ω₁₆","N=6 Ω₁₆","N=7 Ω₁₆","N=4 Ω₂₆","N=5 Ω₂₆","N=6 Ω₂₆","N=7 Ω₂₆","N=8 Ω₁₆","N=9 Ω₁₆","Present Ω₁₆"," ","N=8 Ω₂₆","N=9 Ω₂₆","Present Ω₂₆"],
             "range": ["M-4.17,0H4.17","M-4.17,0H4.17","M-4.17,0H4.17","M-4.17,0H4.17","M-4.17,0H4.17","M-4.17,0H4.17","M-4.17,0H4.17","M-4.17,0H4.17","M-4.17,0H4.17","M-4.17,0H4.17","square","M-4.17,0H4.17","M-4.17,0H4.17","M-4.17,0H4.17","circle"]}}
 }},
{"data": {"name": "ix"}, "mark": {"type": "rule", "stroke": "#333", "strokeWidth": 0.8},
 "encoding": {
  "x": {"field": "p", "type": "quantitative", "axis": null},
  "y": {"datum": 50.64, "type": "quantitative", "axis": null},
  "y2": {"datum": 50.7}
 }},
{"data": {"name": "ix"}, "mark": {"type": "text", "fontSize": 7, "baseline": "top", "dy": 2, "font": "Liberation Serif", "color": "#000"},
 "encoding": {
  "x": {"field": "p", "type": "quantitative", "axis": null},
  "y": {"datum": 50.64, "type": "quantitative", "axis": null},
  "text": {"field": "p", "type": "quantitative"}
 }},
{"data": {"name": "iy"}, "mark": {"type": "rule", "stroke": "#333", "strokeWidth": 0.8},
 "encoding": {
  "x": {"datum": 220, "type": "quantitative", "axis": null},
  "x2": {"datum": 221.4},
  "y": {"field": "v", "type": "quantitative", "axis": null}
 }},
{"data": {"name": "iy"}, "mark": {"type": "text", "fontSize": 7, "align": "right", "baseline": "middle", "dx": -2, "font": "Liberation Serif", "color": "#000"},
 "encoding": {
  "x": {"datum": 220, "type": "quantitative", "axis": null},
  "y": {"field": "v", "type": "quantitative", "axis": null},
  "text": {"field": "v", "type": "quantitative"}
 }}
]}
]
}
],
"config": {
 "view": {"stroke": "#333", "strokeWidth": 1},
 "font": "Liberation Serif",
 "axis": {"labelFont": "Liberation Serif", "labelFontSize": 12, "labelColor": "#000", "titleFont": "Liberation Serif", "titleFontSize": 17, "titleFontWeight": "normal", "titleColor": "#000", "domain": false, "grid": true, "gridColor": "#d2d2d2", "gridWidth": 1, "tickColor": "#333", "tickSize": -4, "labelPadding": 6, "labelOverlap": false},
 "legend": {"orient": "none", "direction": "horizontal", "legendX": 77, "legendY": 248, "columns": 4, "labelFont": "Liberation Serif", "labelFontSize": 11.5, "labelColor": "#000", "labelLimit": 0, "labelOffset": 11.5, "rowPadding": 4, "columnPadding": 15, "symbolStrokeWidth": 1.5, "symbolSize": 42, "clipHeight": 13}
}
}
